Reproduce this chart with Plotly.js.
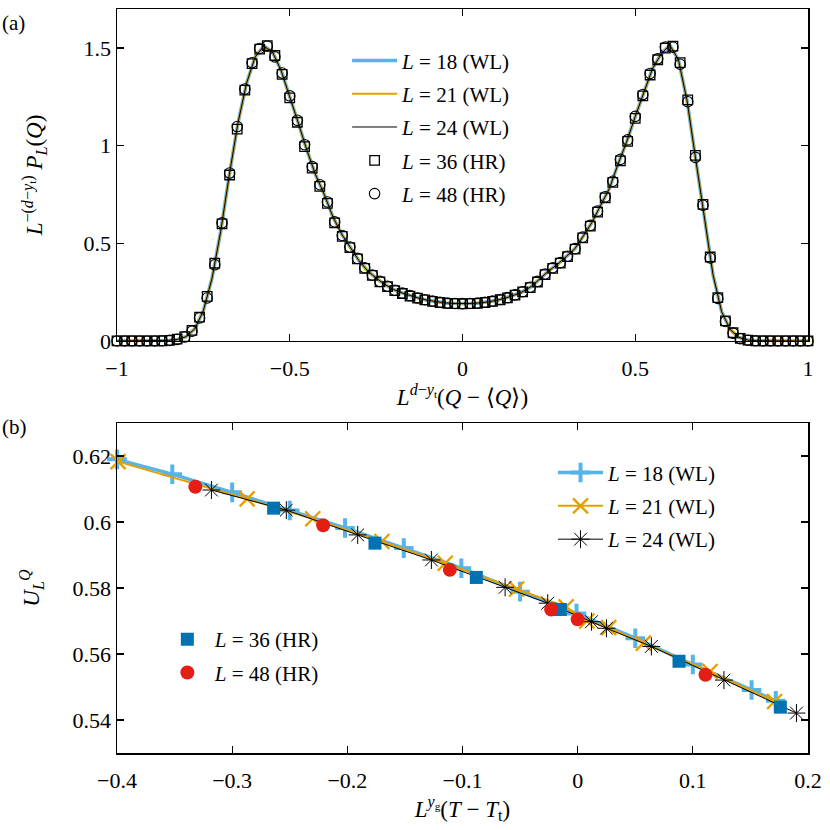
<!DOCTYPE html>
<html>
<head>
<meta charset="utf-8">
<script src="https://cdn.plot.ly/plotly-3.0.1.min.js"></script>
<style>body{margin:0;background:#fff}</style>
</head>
<body>
<div id="chart" style="width:830px;height:830px"></div>
<script>
// (a) order-parameter distribution
var qWL = [-1.000,-0.975,-0.950,-0.925,-0.900,-0.875,-0.850,-0.825,-0.800,-0.775,-0.750,-0.725,-0.700,-0.675,-0.650,-0.625,-0.600,-0.575,-0.550,-0.525,-0.500,-0.475,-0.450,-0.425,-0.400,-0.375,-0.350,-0.325,-0.300,-0.275,-0.250,-0.225,-0.200,-0.175,-0.150,-0.125,-0.100,-0.075,-0.050,-0.025,0.000,0.025,0.050,0.075,0.100,0.125,0.150,0.175,0.200,0.225,0.250,0.275,0.300,0.325,0.350,0.375,0.400,0.425,0.450,0.475,0.500,0.525,0.550,0.575,0.600,0.625,0.650,0.675,0.700,0.725,0.750,0.775,0.800,0.825,0.850,0.875,0.900,0.925,0.950,0.975,1.000];
var pWL = [0,0,0,0,0,0.001,0.003,0.008,0.022,0.062,0.155,0.320,0.560,0.850,1.115,1.320,1.455,1.510,1.480,1.385,1.255,1.115,0.975,0.850,0.750,0.635,0.548,0.478,0.412,0.360,0.322,0.290,0.264,0.246,0.231,0.218,0.208,0.200,0.195,0.192,0.191,0.192,0.195,0.200,0.209,0.220,0.235,0.253,0.280,0.318,0.360,0.392,0.430,0.472,0.538,0.608,0.695,0.780,0.905,1.020,1.150,1.278,1.395,1.470,1.515,1.440,1.230,0.930,0.640,0.340,0.150,0.058,0.018,0.005,0.001,0,0,0,0,0,0];

var qHR = [-1.000,-0.978,-0.957,-0.935,-0.913,-0.891,-0.870,-0.848,-0.826,-0.804,-0.783,-0.761,-0.739,-0.717,-0.696,-0.674,-0.652,-0.630,-0.609,-0.587,-0.565,-0.543,-0.522,-0.500,-0.478,-0.457,-0.435,-0.413,-0.391,-0.370,-0.348,-0.326,-0.304,-0.283,-0.261,-0.239,-0.217,-0.196,-0.174,-0.152,-0.130,-0.109,-0.087,-0.065,-0.043,-0.022,0.000,0.022,0.043,0.065,0.087,0.109,0.130,0.152,0.174,0.196,0.217,0.239,0.261,0.283,0.304,0.326,0.348,0.370,0.391,0.413,0.435,0.457,0.478,0.500,0.522,0.543,0.565,0.587,0.609,0.630,0.652,0.674,0.696,0.717,0.739,0.761,0.783,0.804,0.826,0.848,0.870,0.891,0.913,0.935,0.957,0.978,1.000];
var p36 = [0,0,0,0,0,0,0.001,0.003,0.009,0.022,0.054,0.122,0.228,0.398,0.600,0.850,1.085,1.285,1.420,1.495,1.512,1.462,1.365,1.245,1.120,0.995,0.885,0.792,0.705,0.605,0.536,0.478,0.420,0.372,0.336,0.303,0.278,0.258,0.243,0.230,0.219,0.210,0.203,0.197,0.193,0.191,0.190,
  0.191,0.193,0.197,0.203,0.211,0.221,0.235,0.251,0.273,0.302,0.340,0.372,0.399,0.432,0.470,0.528,0.588,0.660,0.733,0.812,0.922,1.022,1.140,1.255,1.362,1.440,1.500,1.510,1.425,1.235,0.950,0.700,0.430,0.222,0.103,0.042,0.013,0.004,0.001,0,0,0,0,0,0,0];
var p48 = [0,0,0,0,0,0,0.001,0.003,0.008,0.020,0.050,0.118,0.220,0.390,0.605,0.860,1.098,1.290,1.425,1.498,1.510,1.455,1.372,1.255,1.130,1.005,0.893,0.800,0.712,0.610,0.540,0.481,0.423,0.375,0.337,0.305,0.280,0.260,0.245,0.232,0.220,0.211,0.204,0.198,0.194,0.192,0.191,
  0.192,0.194,0.198,0.204,0.212,0.222,0.236,0.252,0.275,0.305,0.343,0.375,0.401,0.434,0.473,0.532,0.592,0.665,0.738,0.818,0.930,1.030,1.150,1.262,1.370,1.445,1.505,1.505,1.417,1.225,0.940,0.695,0.425,0.218,0.100,0.040,0.012,0.004,0.001,0,0,0,0,0,0,0];

// (b) Binder cumulant vs scaled temperature
var t18 = [-0.400,-0.352,-0.300,-0.250,-0.202,-0.151,-0.101,-0.050,-0.001,0.050,0.100,0.151,0.172];
var u18 = [0.6190,0.6145,0.6090,0.6035,0.5982,0.5921,0.5860,0.5789,0.5723,0.5648,0.5568,0.5491,0.5458];
var t21 = [-0.399,-0.287,-0.230,-0.170,-0.115,-0.053,-0.010,0.008,0.027,0.057,0.115,0.171];
var u21 = [0.6183,0.6070,0.6010,0.5941,0.5875,0.5797,0.5743,0.5700,0.5680,0.5633,0.5547,0.5456];
var t24 = [-0.318,-0.253,-0.191,-0.127,-0.063,-0.026,0.012,0.025,0.064,0.127,0.190];
var u24 = [0.6097,0.6036,0.5961,0.5885,0.5802,0.5754,0.5698,0.5678,0.5623,0.5521,0.5421];
var t36 = [-0.264,-0.176,-0.088,-0.015,0.088,0.176];
var u36 = [0.6042,0.5936,0.5832,0.5735,0.5578,0.5439];
var t48 = [-0.332,-0.221,-0.111,-0.023,0.000,0.111];
var u48 = [0.6107,0.5990,0.5855,0.5735,0.5705,0.5537];

var BLUE = '#56B4E9', ORANGE = '#E69F00', DEEP = '#0072B2', RED = '#E41E15';
var FONT = 'Liberation Serif, Times New Roman, serif';

var data = [
  {x: qWL, y: pWL, mode: 'lines', name: '<i>L</i> = 18 (WL)', line: {color: BLUE, width: 3.5}, legendgroup: 'a1', cliponaxis: false},
  {x: qWL, y: pWL, mode: 'lines', name: '<i>L</i> = 21 (WL)', line: {color: ORANGE, width: 2}, legendgroup: 'a2', cliponaxis: false},
  {x: qWL, y: pWL, mode: 'lines', name: '<i>L</i> = 24 (WL)', line: {color: 'black', width: 1}, legendgroup: 'a3', cliponaxis: false},
  {x: qHR, y: p36, mode: 'markers', name: '<i>L</i> = 36 (HR)', legendgroup: 'a4', cliponaxis: false,
    marker: {symbol: 'square-open', size: 9.5, color: 'black', line: {width: 1.3, color: 'black'}}},
  {x: qHR, y: p48, mode: 'markers', name: '<i>L</i> = 48 (HR)', legendgroup: 'a5', cliponaxis: false,
    marker: {symbol: 'circle-open', size: 10.5, color: 'black', line: {width: 1.1, color: 'black'}}},

  {x: t18, y: u18, xaxis: 'x2', yaxis: 'y2', mode: 'lines+markers', name: '<i>L</i> = 18 (WL)', legend: 'legend2', legendgroup: 'b1', cliponaxis: false,
    line: {color: BLUE, width: 3.5}, marker: {symbol: 'cross-thin-open', size: 14, color: BLUE, line: {width: 4, color: BLUE}}},
  {x: t21, y: u21, xaxis: 'x2', yaxis: 'y2', mode: 'lines+markers', name: '<i>L</i> = 21 (WL)', legend: 'legend2', legendgroup: 'b2', cliponaxis: false,
    line: {color: ORANGE, width: 2}, marker: {symbol: 'x-thin-open', size: 15, color: ORANGE, line: {width: 2.4, color: ORANGE}}},
  {x: t24, y: u24, xaxis: 'x2', yaxis: 'y2', mode: 'lines+markers', name: '<i>L</i> = 24 (WL)', legend: 'legend2', legendgroup: 'b3', cliponaxis: false,
    line: {color: 'black', width: 1}, marker: {symbol: 'asterisk-open', size: 15, color: 'black', line: {width: 1, color: 'black'}}},
  {x: t36, y: u36, xaxis: 'x2', yaxis: 'y2', mode: 'markers', name: '<i>L</i> = 36 (HR)', legend: 'legend3', legendgroup: 'b4', cliponaxis: false,
    marker: {symbol: 'square', size: 13, color: DEEP}},
  {x: t48, y: u48, xaxis: 'x2', yaxis: 'y2', mode: 'markers', name: '<i>L</i> = 48 (HR)', legend: 'legend3', legendgroup: 'b5', cliponaxis: false,
    marker: {symbol: 'circle', size: 14, color: RED}}
];

var ax = {
  showline: true, linecolor: 'black', linewidth: 1.5, mirror: 'ticks',
  ticks: 'inside', ticklen: 7, tickwidth: 1.3, tickcolor: 'black',
  showgrid: false, zeroline: false,
  tickfont: {family: FONT, size: 22, color: 'black'}
};
function axis(extra) { return Object.assign({}, ax, extra); }

var legendBase = {
  bgcolor: 'rgba(0,0,0,0)', borderwidth: 0, traceorder: 'grouped', tracegroupgap: 3,
  font: {family: FONT, size: 21, color: 'black'}, itemwidth: 45,
  xref: 'paper', yref: 'paper', xanchor: 'left', yanchor: 'top'
};

var layout = {
  width: 830, height: 830,
  margin: {l: 117, r: 22, t: 9, b: 77},
  paper_bgcolor: 'white', plot_bgcolor: 'white',
  font: {family: FONT, color: 'black'},
  xaxis: axis({anchor: 'y', domain: [0, 1], range: [-1, 1], tickvals: [-1, -0.5, 0, 0.5, 1], ticklabelstandoff: 7,
    title: {text: '<i>L</i><sup><i>d</i>−<i>y</i><sub>t</sub></sup>(<i>Q</i> − ⟨<i>Q</i>⟩)', font: {family: FONT, size: 23}, standoff: 6}}),
  yaxis: axis({anchor: 'x', domain: [0.5538, 1], range: [0, 1.7], tickvals: [0, 0.5, 1, 1.5],
    title: {text: '<i>L</i><sup>−(<i>d</i>−<i>y</i><sub>t</sub>)</sup> <i>P</i><sub><i>L</i></sub>(<i>Q</i>)', font: {family: FONT, size: 23}, standoff: 34}}),
  xaxis2: axis({anchor: 'y2', domain: [0, 1], range: [-0.4, 0.2], tickvals: [-0.4, -0.3, -0.2, -0.1, 0, 0.1, 0.2], ticklabelstandoff: 7,
    title: {text: '<i>L</i><sup><i>y</i><sub>g</sub></sup>(<i>T</i> − <i>T</i><sub>t</sub>)', font: {family: FONT, size: 23}, standoff: 6}}),
  yaxis2: axis({anchor: 'x2', domain: [0, 0.4435], range: [0.53, 0.63], tickvals: [0.54, 0.56, 0.58, 0.6, 0.62],
    title: {text: '<i>U</i><sub><i>L</i></sub><sup><i>Q</i></sup>', font: {family: FONT, size: 23}, standoff: 26}}),
  legend: Object.assign({}, legendBase, {x: 0.333, y: 0.958}),
  legend2: Object.assign({}, legendBase, {x: 0.631, y: 0.404}),
  legend3: Object.assign({}, legendBase, {x: 0.062, y: 0.180}),
  annotations: [
    {text: '(a)', xref: 'paper', yref: 'paper', x: -0.17, y: 1.0, xanchor: 'left', yanchor: 'top', showarrow: false, font: {family: FONT, size: 21}},
    {text: '(b)', xref: 'paper', yref: 'paper', x: -0.17, y: 0.457, xanchor: 'left', yanchor: 'top', showarrow: false, font: {family: FONT, size: 21}}
  ]
};

Plotly.newPlot('chart', data, layout, {displayModeBar: false, staticPlot: true});
</script>
</body>
</html>
